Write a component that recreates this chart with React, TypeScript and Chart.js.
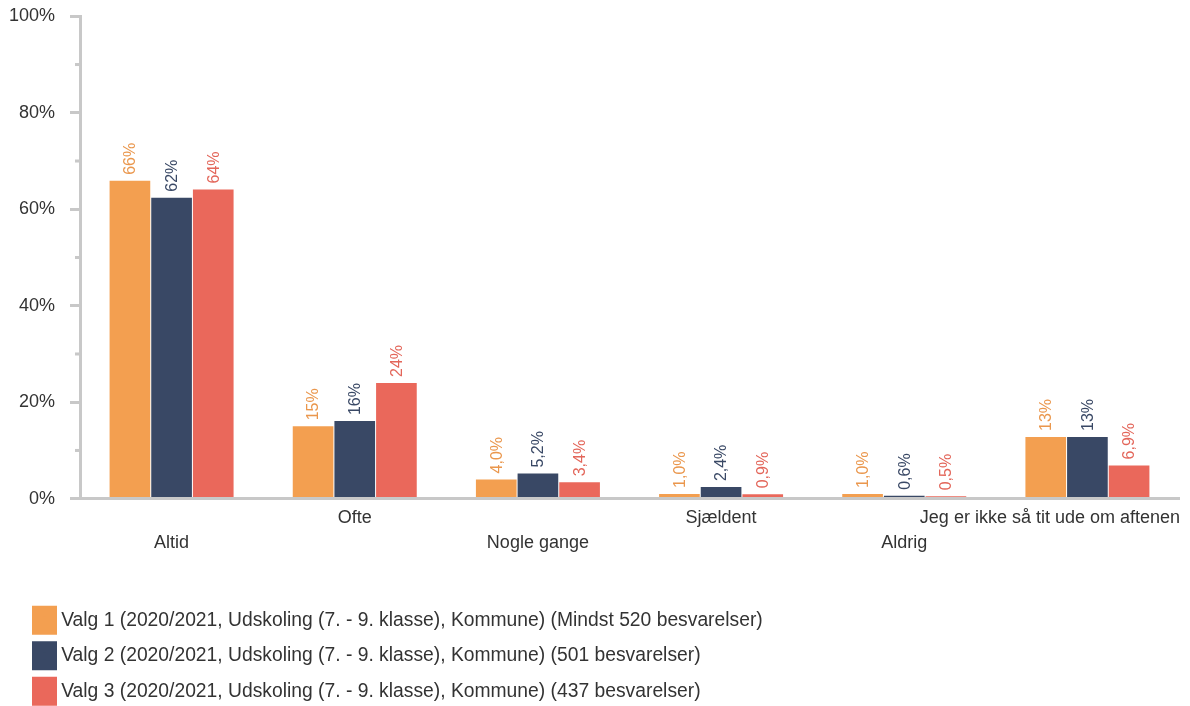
import React, { useEffect, useRef } from 'react';
import { Chart, registerables } from 'chart.js';

Chart.register(...registerables);

const categories = ['Altid', 'Ofte', 'Nogle gange', 'Sjældent', 'Aldrig', 'Jeg er ikke så tit ude om aftenen'];
const seriesNames = [
  'Valg 1 (2020/2021, Udskoling (7. - 9. klasse), Kommune) (Mindst 520 besvarelser)',
  'Valg 2 (2020/2021, Udskoling (7. - 9. klasse), Kommune) (501 besvarelser)',
  'Valg 3 (2020/2021, Udskoling (7. - 9. klasse), Kommune) (437 besvarelser)',
];
const valg1 = [65.9, 15.0, 4.0, 1.0, 1.0, 12.8];
const valg2 = [62.4, 16.1, 5.2, 2.4, 0.6, 12.8];
const valg3 = [64.1, 24.0, 3.4, 0.9, 0.5, 6.9];
const seriesColors = ['#F39F50', '#394865', '#EA685B'];
const labelColors = ['#EA974D', '#394865', '#E3665A'];

const FONT = "'Liberation Sans', Arial, sans-serif";
const GREY = '#C8C8C8';
const TEXT = '#333333';

const fmt = (v: number) => (v >= 10 ? `${Math.round(v)}%` : `${v.toFixed(1).replace('.', ',')}%`);

export default function App() {
  const ref = useRef<HTMLCanvasElement>(null);

  useEffect(() => {
    const canvas = ref.current!;
    const series = [valg1, valg2, valg3];

    const dataLabels = {
      id: 'dataLabels',
      afterDatasetsDraw(chart: any) {
        const ctx = chart.ctx;
        chart.data.datasets.forEach((ds: any, i: number) => {
          const meta = chart.getDatasetMeta(i);
          meta.data.forEach((bar: any, j: number) => {
            ctx.save();
            ctx.translate(bar.x, bar.y - 6);
            ctx.rotate(-Math.PI / 2);
            ctx.textAlign = 'left';
            ctx.textBaseline = 'middle';
            ctx.fillStyle = labelColors[i];
            ctx.font = `16px ${FONT}`;
            ctx.fillText(fmt(ds.data[j]), 0, 1);
            ctx.restore();
          });
        });
      },
    };

    const xLabels = {
      id: 'xLabels',
      afterDraw(chart: any) {
        const ctx = chart.ctx;
        const xs = chart.scales.x;
        const area = chart.chartArea;
        ctx.save();
        ctx.font = `18px ${FONT}`;
        ctx.fillStyle = TEXT;
        ctx.textBaseline = 'alphabetic';
        ctx.textAlign = 'center';
        categories.forEach((c, i) => {
          const w = ctx.measureText(c).width;
          let x = xs.getPixelForValue(i);
          x = Math.min(x, chart.width - 10 - w / 2);
          const y = area.bottom + (i % 2 === 0 ? 49 : 24.5);
          ctx.fillText(c, x, y);
        });
        ctx.restore();
      },
    };

    const minorTicks = {
      id: 'minorTicks',
      afterDraw(chart: any) {
        const ctx = chart.ctx;
        const ys = chart.scales.y;
        ctx.save();
        ctx.fillStyle = GREY;
        ys.ticks.forEach((t: any) => {
          if (t.value % 20 !== 0) {
            const py = ys.getPixelForValue(t.value);
            ctx.fillRect(ys.right - 5, py - 1.5, 5, 3);
          }
        });
        ctx.restore();
      },
    };

    const legendShift = {
      id: 'legendShift',
      afterLayout(chart: any) {
        if (chart.legend) {
          chart.legend.left = 21.3;
        }
      },
    };

    const chart = new Chart(canvas, {
      type: 'bar',
      data: {
        labels: categories,
        datasets: series.map((d, i) => ({
          label: seriesNames[i],
          data: d,
          backgroundColor: seriesColors[i],
          borderWidth: 0,
          categoryPercentage: 0.6824,
          barPercentage: 0.976,
        })),
      },
      options: {
        responsive: false,
        animation: false,
        layout: { padding: { left: 0, right: 11, top: 16.3, bottom: -4.85 } },
        scales: {
          x: {
            grid: { display: false },
            border: { display: true, width: 3, color: GREY, z: 1 },
            ticks: { display: false },
            afterFit(s: any) {
              s.height = 95.65;
              s.paddingLeft = 0;
              s.paddingRight = 0;
            },
          },
          y: {
            min: 0,
            max: 100,
            ticks: {
              stepSize: 10,
              padding: 15,
              color: TEXT,
              font: { family: FONT, size: 18 },
              callback: (v: any) => (Number(v) % 20 === 0 ? `${v}%` : ''),
            },
            grid: {
              drawOnChartArea: false,
              drawTicks: true,
              tickLength: 10,
              tickWidth: 3,
              tickColor: (c: any) => (c.tick && c.tick.value % 20 === 0 ? GREY : 'rgba(0,0,0,0)'),
            },
            border: { display: true, width: 3, color: GREY },
            afterFit(s: any) {
              s.width = 80;
              s.paddingTop = 0;
              s.paddingBottom = 0;
            },
          },
        },
        plugins: {
          tooltip: { enabled: false },
          legend: {
            position: 'bottom',
            align: 'start',
            labels: {
              boxWidth: 14,
              boxHeight: 18,
              padding: 16.2,
              color: TEXT,
              font: { family: FONT, size: 19.3 },
              generateLabels: (c: any) =>
                Chart.defaults.plugins.legend.labels
                  .generateLabels(c)
                  .map((it: any) => ({ ...it, lineWidth: 11, strokeStyle: it.fillStyle })),
            },
          },
        },
      } as any,
      plugins: [dataLabels, xLabels, minorTicks, legendShift],
    });
    return () => chart.destroy();
  }, []);

  return (
    <div style={{ position: 'fixed', left: 0, top: 0, width: 1190, height: 706, background: '#fff' }}>
      <canvas ref={ref} width={1190} height={706} style={{ display: 'block' }} />
    </div>
  );
}
